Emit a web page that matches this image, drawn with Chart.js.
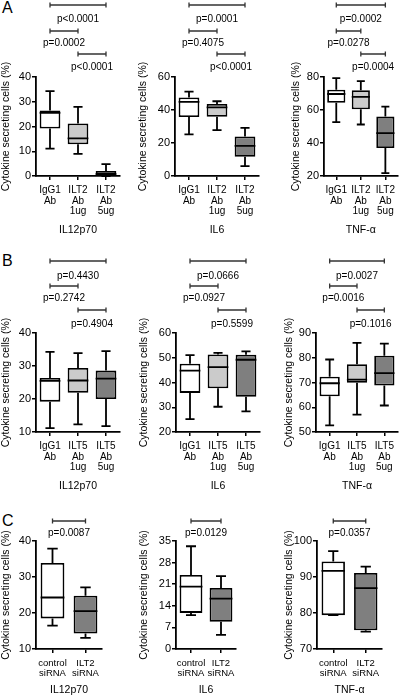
<!DOCTYPE html>
<html>
<head>
<meta charset="utf-8">
<script src="https://cdn.jsdelivr.net/npm/chart.js@4.4.0/dist/chart.umd.min.js"></script>
<style>
body { margin:0; background:#fff; width:400px; height:700px; position:relative; overflow:hidden;
       font-family:"Liberation Sans", Arial, sans-serif; }
canvas { position:absolute; }
.lab { position:absolute; font-size:16px; line-height:16px; }
</style>
</head>
<body>
<div class="lab" style="left:2px;top:0px">A</div>
<div class="lab" style="left:2px;top:253px">B</div>
<div class="lab" style="left:2px;top:513px">C</div>

<canvas id="a1"></canvas><canvas id="a2"></canvas><canvas id="a3"></canvas>
<canvas id="b1"></canvas><canvas id="b2"></canvas><canvas id="b3"></canvas>
<canvas id="c1"></canvas><canvas id="c2"></canvas><canvas id="c3"></canvas>

<script>
// group labels
var groupsA = [['IgG1', 'Ab'], ['ILT2', 'Ab', '1ug'], ['ILT2', 'Ab', '5ug']];
var groupsB = [['IgG1', 'Ab'], ['ILT5', 'Ab', '1ug'], ['ILT5', 'Ab', '5ug']];
var groupsC = [['control', 'siRNA'], ['ILT2', 'siRNA']];
var cytokines = ['IL12p70', 'IL6', 'TNF-α'];

// box stats per group: [min, q1, median, q3, max]
var a_il12 = [[11.1, 19.2, 25.5, 26.5, 34.3], [8.9, 12.8, 15.2, 21.2, 27.9], [0, 0.1, 0.8, 2.0, 4.8]];
var a_il6  = [[25.2, 35.8, 44.9, 47.6, 51.1], [27.8, 35.9, 41.6, 43.7, 45.3], [6.0, 11.7, 18.3, 23.9, 29.2]];
var a_tnf  = [[52.7, 64.4, 69.7, 72.3, 79.3], [51.2, 60.5, 68.0, 72.0, 77.5], [21.8, 37.0, 46.0, 56.0, 62.0]];

var b_il12 = [[11.2, 19.2, 25.5, 26.4, 34.3], [12.3, 21.9, 25.6, 29.4, 33.9], [11.8, 20.0, 26.2, 28.6, 34.5]];
var b_il6  = [[25.2, 35.8, 44.8, 47.6, 51.1], [30.2, 37.7, 46.2, 51.3, 52.0], [28.3, 34.2, 49.2, 51.2, 52.6]];
var b_tnf  = [[52.7, 64.4, 69.7, 72.3, 79.3], [57.0, 69.9, 71.2, 77.4, 86.0], [60.7, 68.8, 73.8, 80.8, 85.7]];

var c_il12 = [[16.5, 18.5, 24.3, 33.9, 37.9], [13.1, 14.3, 20.5, 24.8, 27.1]];
var c_il6  = [[11.0, 11.7, 20.2, 24.0, 33.3], [4.6, 8.8, 16.3, 19.8, 23.6]];
var c_tnf  = [[79.4, 79.4, 91.7, 94.3, 97.2], [74.8, 75.2, 86.9, 91.1, 92.9]];

// y ticks
var ticks_a12 = [0, 10, 20, 30, 40];
var ticks_a6  = [0, 20, 40, 60];
var ticks_atn = [20, 40, 60, 80];
var ticks_b12 = [10, 20, 30, 40];
var ticks_b6  = [20, 30, 40, 50, 60];
var ticks_btn = [50, 60, 70, 80, 90];
var ticks_c12 = [10, 20, 30, 40];
var ticks_c6  = [0, 7, 14, 21, 28, 35];
var ticks_ctn = [70, 80, 90, 100];

// p values (pairs: 1-3, 1-2, 2-3)
var pairs3 = [[0, 2], [0, 1], [1, 2]];
var pairs2 = [[0, 1]];
var p_a12 = ['p<0.0001', 'p=0.0002', 'p<0.0001'];
var p_a6  = ['p=0.0001', 'p=0.4075', 'p<0.0001'];
var p_atn = ['p=0.0002', 'p=0.0278', 'p=0.0004'];
var p_b12 = ['p=0.4430', 'p=0.2742', 'p=0.4904'];
var p_b6  = ['p=0.0666', 'p=0.0927', 'p=0.5599'];
var p_btn = ['p=0.0027', 'p=0.0016', 'p=0.1016'];
var p_c12 = ['p=0.0087'];
var p_c6  = ['p=0.0129'];
var p_ctn = ['p=0.0357'];

var fills3 = ['#ffffff', '#cbcbcb', '#7f7f7f'];
var fills2 = ['#ffffff', '#7f7f7f'];

Chart.defaults.font.family = '"Liberation Sans", Arial, sans-serif';
Chart.defaults.color = '#000';

// whiskers + median on top of the floating bars
var boxWhisk = {
  id: 'boxWhisk',
  afterDatasetsDraw: function (chart) {
    var stats = chart.options.plugins.boxWhisk.stats;
    var ys = chart.scales.y;
    var ctx = chart.ctx;
    ctx.save();
    ctx.strokeStyle = '#000';
    ctx.lineWidth = 1.8;
    chart.getDatasetMeta(0).data.forEach(function (bar, i) {
      var s = stats[i];
      var x = bar.x, hw = bar.width / 2, cap = bar.width * 0.22;
      var p = s.map(function (v) { return ys.getPixelForValue(v); });
      ctx.beginPath();
      ctx.moveTo(x, p[3]); ctx.lineTo(x, p[4]);
      ctx.moveTo(x - cap, p[4]); ctx.lineTo(x + cap, p[4]);
      ctx.moveTo(x, p[1]); ctx.lineTo(x, p[0]);
      ctx.moveTo(x - cap, p[0]); ctx.lineTo(x + cap, p[0]);
      ctx.moveTo(x - hw, p[2]); ctx.lineTo(x + hw, p[2]);
      ctx.stroke();
    });
    ctx.restore();
  }
};

// significance brackets above the plot
var brackets = {
  id: 'brackets',
  afterDraw: function (chart) {
    var o = chart.options.plugins.brackets;
    var xs = chart.scales.x;
    var ctx = chart.ctx;
    ctx.save();
    ctx.strokeStyle = '#333';
    ctx.fillStyle = '#000';
    ctx.lineWidth = 1.3;
    ctx.font = '10px "Liberation Sans", Arial, sans-serif';
    ctx.textAlign = 'center';
    ctx.textBaseline = 'middle';
    o.pairs.forEach(function (pr, k) {
      var x1 = xs.getPixelForValue(pr[0]), x2 = xs.getPixelForValue(pr[1]);
      var yl = o.lineY[k];
      ctx.beginPath();
      ctx.moveTo(x1, yl); ctx.lineTo(x2, yl);
      ctx.moveTo(x1, yl - 2.5); ctx.lineTo(x1, yl + 2.5);
      ctx.moveTo(x2, yl - 2.5); ctx.lineTo(x2, yl + 2.5);
      ctx.stroke();
      ctx.fillText(o.labels[k], (x1 + x2) / 2, o.textY[k]);
    });
    ctx.restore();
  }
};

function boxChart(id, g, groups, stats, fills, yTicks, title, pairs, pLabels, lineY, textY) {
  var cv = document.getElementById(id);
  cv.width = g.w; cv.height = g.h;
  cv.style.left = g.left + 'px'; cv.style.top = g.top + 'px';
  new Chart(cv, {
    type: 'bar',
    data: {
      labels: groups,
      datasets: [{
        data: stats.map(function (s) { return [s[1], s[3]]; }),
        backgroundColor: fills,
        borderColor: '#000',
        borderWidth: 1.8,
        borderSkipped: false,
        barPercentage: g.bar || 0.74,
        categoryPercentage: 1
      }]
    },
    options: {
      responsive: false,
      animation: false,
      devicePixelRatio: 1,
      layout: { padding: { top: g.plotTop - g.top, right: g.left + g.w - g.plotRight, left: 0, bottom: 0 } },
      plugins: {
        legend: { display: false },
        tooltip: { enabled: false },
        boxWhisk: { stats: stats },
        brackets: {
          pairs: pairs, labels: pLabels,
          lineY: lineY.map(function (v) { return v - g.top; }),
          textY: textY.map(function (v) { return v - g.top; })
        }
      },
      scales: {
        x: {
          offset: true,
          grid: { display: true, offset: false, drawOnChartArea: false, tickLength: 4, color: '#000', lineWidth: 1.5 },
          border: { display: true, color: '#000', width: 1.8 },
          ticks: { font: { size: g.xFont || 10, lineHeight: 1.05 }, padding: 5, maxRotation: 0, autoSkip: false },
          title: { display: true, text: title, font: { size: 10.5 }, padding: 0 },
          afterFit: function (s) { s.height = g.top + g.h - g.plotBottom; }
        },
        y: {
          min: yTicks[0], max: yTicks[yTicks.length - 1],
          afterBuildTicks: function (s) { s.ticks = yTicks.map(function (v) { return { value: v }; }); },
          grid: { display: true, drawOnChartArea: false, tickLength: 4, color: '#000', lineWidth: 1.5 },
          border: { display: true, color: '#000', width: 1.8 },
          ticks: { font: { size: 11 }, padding: 1 },
          title: { display: true, text: 'Cytokine secreting cells (%)', font: { size: 10.5 }, padding: 0 },
          afterFit: function (s) { s.width = g.axisX - g.left; }
        }
      }
    },
    plugins: [boxWhisk, brackets]
  });
}

// row A
var rA = { top: 0, h: 236, plotTop: 77, plotBottom: 176 };
var lA = [5, 31, 54], tA = [19, 43, 67];
boxChart('a1', Object.assign({ left: 0, w: 125, axisX: 36, plotRight: 120 }, rA), groupsA, a_il12, fills3, ticks_a12, cytokines[0], pairs3, p_a12, lA, tA);
boxChart('a2', Object.assign({ left: 137, w: 125, axisX: 175, plotRight: 259 }, rA), groupsA, a_il6, fills3, ticks_a6, cytokines[1], pairs3, p_a6, lA, tA);
boxChart('a3', Object.assign({ left: 290, w: 110, axisX: 324, plotRight: 400 }, rA), groupsA, a_tnf, fills3, ticks_atn, cytokines[2], pairs3, p_atn, lA, tA);

// row B
var rB = { top: 240, h: 252, plotTop: 333, plotBottom: 432 };
var lB = [261, 286, 310], tB = [276, 298, 324];
boxChart('b1', Object.assign({ left: 0, w: 125, axisX: 36, plotRight: 120 }, rB), groupsB, b_il12, fills3, ticks_b12, cytokines[0], pairs3, p_b12, lB, tB);
boxChart('b2', Object.assign({ left: 138, w: 125, axisX: 176, plotRight: 260 }, rB), groupsB, b_il6, fills3, ticks_b6, cytokines[1], pairs3, p_b6, lB, tB);
boxChart('b3', Object.assign({ left: 283, w: 117, axisX: 316, plotRight: 398 }, rB), groupsB, b_tnf, fills3, ticks_btn, cytokines[2], pairs3, p_btn, lB, tB);

// row C
var rC = { top: 500, h: 196, plotTop: 541, plotBottom: 649, xFont: 9.5 };
var lC = [521], tC = [533];
boxChart('c1', Object.assign({ left: 0, w: 110, axisX: 36, plotRight: 102, bar: 0.72 }, rC), groupsC, c_il12, fills2, ticks_c12, cytokines[0], pairs2, p_c12, lC, tC);
boxChart('c2', Object.assign({ left: 138, w: 104, axisX: 176, plotRight: 236, bar: 0.76 }, rC), groupsC, c_il6, fills2, ticks_c6, cytokines[1], pairs2, p_c6, lC, tC);
boxChart('c3', Object.assign({ left: 283, w: 110, axisX: 317, plotRight: 382, bar: 0.72 }, rC), groupsC, c_tnf, fills2, ticks_ctn, cytokines[2], pairs2, p_ctn, lC, tC);
</script>
</body>
</html>
